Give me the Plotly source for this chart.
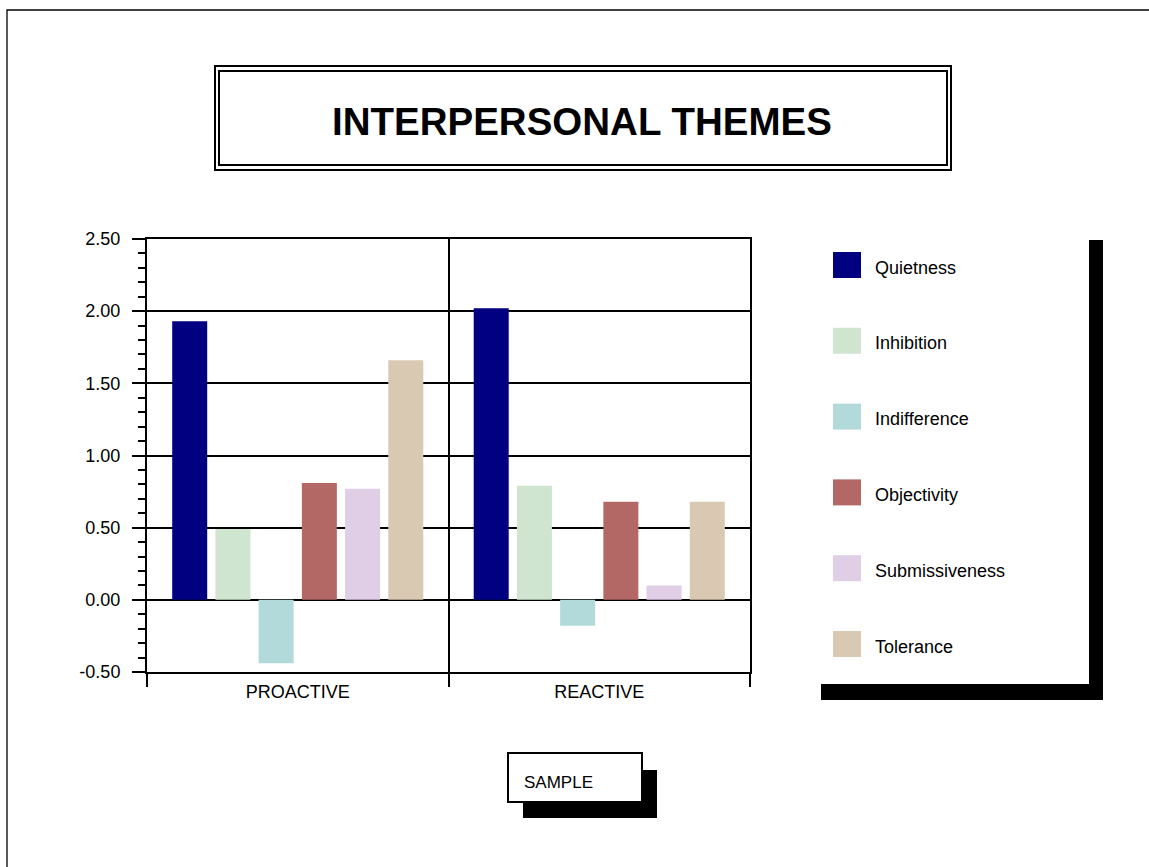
import plotly.graph_objects as go

# ---- data -------------------------------------------------------------
categories = ["PROACTIVE", "REACTIVE"]
series_names = ["Quietness", "Inhibition", "Indifference",
                "Objectivity", "Submissiveness", "Tolerance"]
quietness = [1.93, 2.02]
inhibition = [0.49, 0.79]
indifference = [-0.44, -0.18]
objectivity = [0.81, 0.68]
submissiveness = [0.77, 0.10]
tolerance = [1.66, 0.68]
series_values = [quietness, inhibition, indifference,
                 objectivity, submissiveness, tolerance]
series_colors = ["#000080", "#CFE5D0", "#B3DADA",
                 "#B36866", "#DFCEE6", "#D9C9B3"]
y_ticks = [-0.5, 0.0, 0.5, 1.0, 1.5, 2.0, 2.5]
y_tick_labels = ["-0.50", "0.00", "0.50", "1.00", "1.50", "2.00", "2.50"]
title_text = "INTERPERSONAL THEMES"
footer_text = "SAMPLE"

# ---- page geometry (pixels) ------------------------------------------
W, H = 1149, 867
ML, MR, MT, MB = 147, 399, 239, 195
PW, PH = W - ML - MR, H - MT - MB
FONT = "Liberation Sans, Arial, Helvetica, sans-serif"


def fx(x):
    """pixel column -> paper x"""
    return (x - ML) / PW


def fy(y):
    """pixel row -> paper y"""
    return (H - MB - y) / PH


def rect(x0, y0, x1, y1, fill="rgba(0,0,0,0)", line_color="black", lw=0):
    return dict(type="rect", xref="paper", yref="paper",
                x0=fx(x0), x1=fx(x1), y0=fy(y1), y1=fy(y0),
                fillcolor=fill,
                line=dict(color=line_color, width=lw))


fig = go.Figure()
for name, vals, col in zip(series_names, series_values, series_colors):
    fig.add_trace(go.Bar(name=name, x=categories, y=vals,
                         marker=dict(color=col, line=dict(width=0))))

shapes = [
    # page frame
    rect(7, 10, 1170, 890, lw=1.3),
    # title: double-ruled box
    rect(215, 66, 951, 170, lw=2),
    rect(219, 71, 947, 165, lw=2),
    # legend panel with drop shadow
    rect(821, 240, 1103, 700, fill="black"),
    rect(790, 215, 1089, 684, fill="white"),
    # footer box with drop shadow
    rect(523, 770, 657, 818, fill="black"),
    rect(508, 753, 642, 802, fill="white", lw=2),
]

annotations = [
    dict(text=title_text, x=fx(581.5), y=fy(122), xref="paper", yref="paper",
         showarrow=False, xanchor="center", yanchor="middle",
         font=dict(family=FONT, size=38.5, color="black", weight="bold")),
    dict(text=footer_text, x=fx(521.5), y=fy(782), xref="paper", yref="paper",
         showarrow=False, xanchor="left", yanchor="middle",
         font=dict(family=FONT, size=17, color="black")),
]

# hand-built legend: large square swatches with labels
row_gap = 75.8
for i, (name, col) in enumerate(zip(series_names, series_colors)):
    cy = 265 + i * row_gap
    shapes.append(rect(833, cy - 13, 861, cy + 13, fill=col))
    annotations.append(dict(text=name, x=fx(873), y=fy(cy + 2.5),
                            xref="paper", yref="paper", showarrow=False,
                            xanchor="left", yanchor="middle",
                            font=dict(family=FONT, size=18, color="black")))

fig.update_layout(
    width=W, height=H,
    margin=dict(l=ML, r=MR, t=MT, b=MB, pad=0),
    paper_bgcolor="white", plot_bgcolor="white",
    barmode="group", bargap=0.14, bargroupgap=0.19,
    showlegend=False,
    font=dict(family=FONT, size=18, color="black"),
    shapes=shapes, annotations=annotations,
)

fig.update_xaxes(
    type="category", tickson="boundaries",
    ticks="outside", ticklen=13, tickwidth=2, tickcolor="black",
    ticklabelstandoff=2,
    showgrid=True, gridcolor="black", gridwidth=2,
    showline=True, linecolor="black", linewidth=2, mirror=True,
    tickfont=dict(family=FONT, size=18, color="black"),
    automargin=False, fixedrange=True,
)
fig.update_yaxes(
    range=[-0.5, 2.5], tickvals=y_ticks, ticktext=y_tick_labels,
    ticks="outside", ticklen=13, tickwidth=2, tickcolor="black",
    ticklabelstandoff=8,
    minor=dict(dtick=0.1, ticks="outside", ticklen=7, tickwidth=2,
               tickcolor="black", showgrid=False),
    showgrid=True, gridcolor="black", gridwidth=2,
    zeroline=False,
    showline=True, linecolor="black", linewidth=2, mirror=True,
    tickfont=dict(family=FONT, size=18, color="black"),
    automargin=False, fixedrange=True,
)

fig.write_html("out.html", config=dict(displayModeBar=False))
